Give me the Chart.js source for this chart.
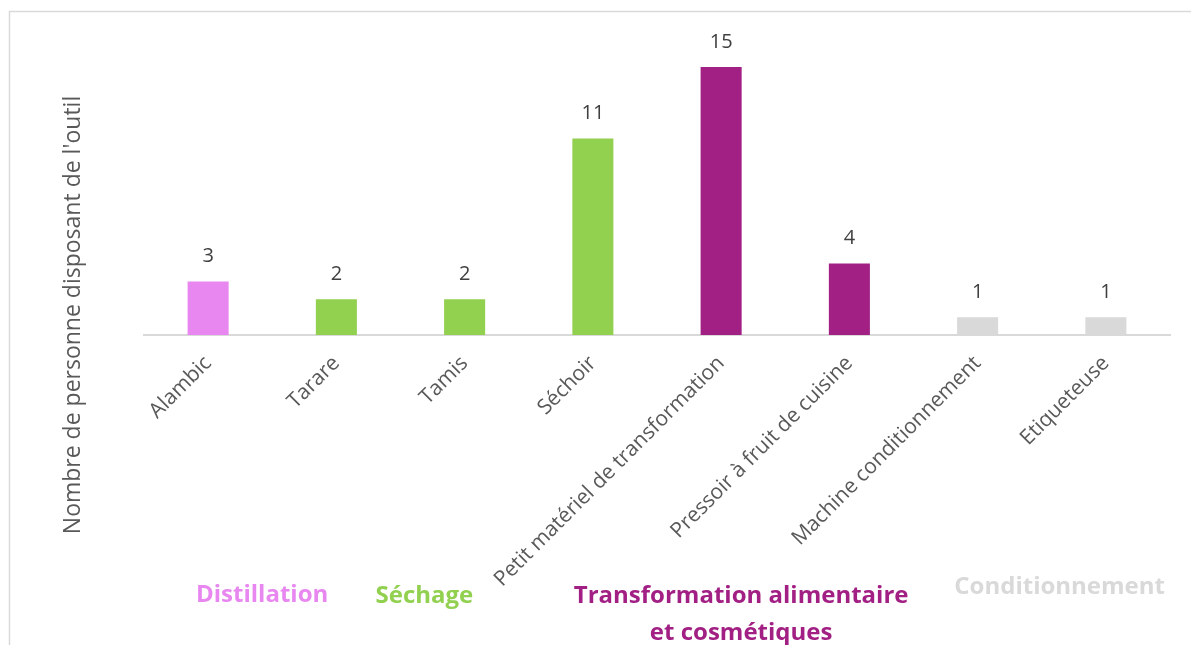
<!DOCTYPE html>
<html>
<head>
<meta charset="utf-8">
<script src="https://cdn.jsdelivr.net/npm/chart.js@4/dist/chart.umd.min.js"></script>
<style>
  html, body { margin: 0; padding: 0; background: #fff; }
  #wrap { width: 1191px; height: 645px; position: relative; }
</style>
</head>
<body>
<div id="wrap"><canvas id="outils"></canvas></div>
<script>
// ---- Données ----
const outils = ["Alambic", "Tarare", "Tamis", "Séchoir", "Petit matériel de transformation",
  "Pressoir à fruit de cuisine", "Machine conditionnement", "Etiqueteuse"];
const nbPersonnes = [3, 2, 2, 11, 15, 4, 1, 1];
const groupeOutil = [0, 1, 1, 1, 2, 2, 3, 3];
const groupes = [["Distillation"], ["Séchage"], ["Transformation alimentaire", "et cosmétiques"], ["Conditionnement"]];

// ---- Couleurs par groupe ----
const couleursGroupe = ["#E887F0", "#92D050", "#A21F84", "#D9D9D9"];
const TEXTE = "#595959";

// ---- Cadre gris autour du graphique ----
const cadre = {
  id: "cadre",
  beforeDraw(chart) {
    const c = chart.ctx;
    c.save();
    c.strokeStyle = "#D9D9D9";
    c.lineWidth = 1.5;
    c.strokeRect(9.5, 11.5, 1300, 800);
    c.restore();
  }
};

// ---- Valeurs au-dessus des barres ----
const valeurs = {
  id: "valeurs",
  afterDatasetsDraw(chart) {
    const c = chart.ctx;
    const meta = chart.getDatasetMeta(0);
    c.save();
    c.font = "20px 'Open Sans'";
    c.fillStyle = "#404040";
    c.textAlign = "center";
    c.textBaseline = "middle";
    meta.data.forEach((bar, i) => {
      c.fillText(String(nbPersonnes[i]), bar.x, bar.y - 25);
    });
    c.restore();
  }
};

// ---- Titre de l'axe Y et noms des groupes ----
const textes = {
  id: "textes",
  afterDraw(chart) {
    const c = chart.ctx;
    const x = chart.scales.x;
    c.save();
    // titre vertical
    c.translate(73, 315);
    c.rotate(-Math.PI / 2);
    c.font = "23px 'Open Sans'";
    c.fillStyle = TEXTE;
    c.textAlign = "center";
    c.textBaseline = "middle";
    c.fillText("Nombre de personne disposant de l'outil", 0, 0);
    c.restore();

    // position de chaque groupe (décalage par rapport au premier outil du groupe)
    const pos = [
      { dx: 54, y: 595 },
      { dx: 88, y: 596 },
      { dx: 20, y: 596 },
      { dx: 82, y: 587 }
    ];
    c.save();
    c.font = "bold 24px 'Open Sans'";
    c.textAlign = "center";
    c.textBaseline = "middle";
    groupes.forEach((lignes, g) => {
      const premier = groupeOutil.indexOf(g);
      const cx = x.getPixelForValue(premier) + pos[g].dx;
      c.fillStyle = couleursGroupe[g];
      lignes.forEach((t, k) => c.fillText(t, cx, pos[g].y + k * 37));
    });
    c.restore();
  }
};

new Chart(document.getElementById("outils"), {
  type: "bar",
  data: {
    labels: outils,
    datasets: [{
      data: nbPersonnes,
      backgroundColor: groupeOutil.map(g => couleursGroupe[g]),
      categoryPercentage: 1,
      barPercentage: 0.32
    }]
  },
  options: {
    responsive: true,
    maintainAspectRatio: false,
    animation: false,
    layout: { padding: { left: 144, right: 21, top: 49, bottom: 0 } },
    plugins: { legend: { display: false }, tooltip: { enabled: false } },
    scales: {
      x: {
        grid: { display: false, drawTicks: false },
        border: { color: "#D9D9D9", width: 2 },
        ticks: {
          color: TEXTE,
          font: { family: "'Open Sans'", size: 21 },
          minRotation: 45,
          maxRotation: 45,
          padding: 16
        },
        afterFit(scale) { scale.height = 310; }
      },
      y: {
        display: false,
        min: 0,
        max: 16
      }
    }
  },
  plugins: [cadre, valeurs, textes]
});
</script>
</body>
</html>
